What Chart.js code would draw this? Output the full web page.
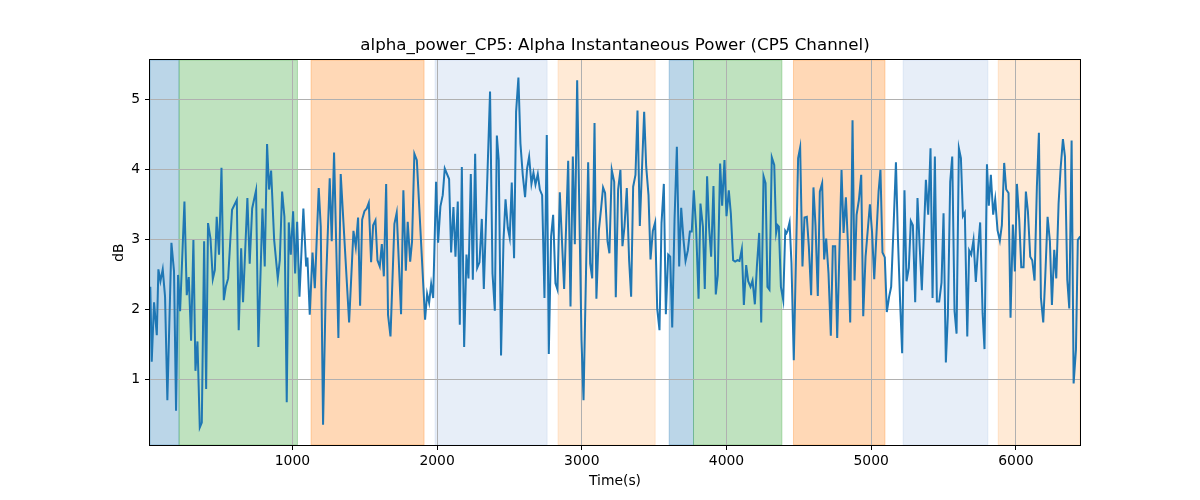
<!DOCTYPE html>
<html>
<head>
<meta charset="utf-8">
<script src="https://cdn.jsdelivr.net/npm/chart.js@4.4.1/dist/chart.umd.min.js"></script>
<style>
  html, body { margin: 0; padding: 0; background: #fff; }
  #wrap { width: 1200px; height: 500px; }
</style>
</head>
<body>
<div id="wrap"><canvas id="alphaChart" width="1200" height="500"></canvas></div>
<script>
// sample times (s) and alpha power (dB)
const times = [
  18, 28, 44, 63, 74, 88, 104, 120, 136, 164,
  182, 196, 210, 224, 254, 270, 284, 300, 316, 330,
  344, 360, 374, 390, 404, 417, 434, 450, 464, 477,
  493, 510, 526, 540, 556, 583, 616, 629, 646, 659,
  689, 705, 722, 749, 765, 793, 809, 825, 839, 853,
  874, 899, 913, 929, 945, 961, 975, 989, 1005, 1019,
  1033, 1049, 1076, 1095, 1104, 1120, 1139, 1155, 1182, 1196,
  1212, 1230, 1258, 1272, 1288, 1318, 1334, 1392, 1422, 1438,
  1454, 1468, 1482, 1498, 1514, 1528, 1544, 1558, 1574, 1588,
  1604, 1618, 1632, 1648, 1661, 1678, 1705, 1721, 1751, 1767,
  1784, 1797, 1814, 1827, 1843, 1860, 1917, 1931, 1945, 1959,
  1973, 1993, 2007, 2023, 2039, 2053, 2083, 2097, 2113, 2127,
  2143, 2157, 2171, 2187, 2203, 2217, 2233, 2247, 2263, 2277,
  2293, 2309, 2323, 2366, 2383, 2399, 2413, 2426, 2442, 2459,
  2473, 2489, 2502, 2516, 2532, 2546, 2562, 2576, 2592, 2608,
  2622, 2636, 2652, 2666, 2680, 2696, 2710, 2726, 2742, 2758,
  2772, 2788, 2802, 2818, 2832, 2848, 2878, 2906, 2922, 2938,
  2952, 2968, 2998, 3012, 3044, 3058, 3072, 3088, 3101, 3118,
  3134, 3147, 3161, 3178, 3191, 3207, 3224, 3235, 3251, 3267,
  3281, 3295, 3311, 3327, 3341, 3355, 3371, 3385, 3401, 3431,
  3445, 3461, 3475, 3491, 3507, 3521, 3537, 3551, 3567, 3581,
  3597, 3611, 3625, 3641, 3657, 3673, 3687, 3703, 3717, 3733,
  3747, 3760, 3774, 3790, 3807, 3820, 3837, 3850, 3866, 3880,
  3894, 3910, 3926, 3940, 3956, 3970, 3986, 4000, 4016, 4030,
  4046, 4060, 4076, 4090, 4106, 4120, 4136, 4150, 4166, 4180,
  4196, 4210, 4226, 4240, 4256, 4270, 4283, 4297, 4313, 4330,
  4343, 4353, 4362, 4376, 4392, 4406, 4415, 4422, 4436, 4449,
  4465, 4495, 4509, 4525, 4539, 4555, 4569, 4585, 4601, 4615,
  4631, 4645, 4661, 4675, 4689, 4705, 4721, 4735, 4751, 4765,
  4780, 4795, 4809, 4825, 4840, 4855, 4871, 4885, 4899, 4915,
  4931, 4945, 4961, 4991, 5006, 5021, 5051, 5064, 5078, 5094,
  5108, 5124, 5138, 5155, 5171, 5185, 5200, 5214, 5230, 5244,
  5260, 5274, 5288, 5304, 5320, 5335, 5350, 5378, 5394, 5410,
  5424, 5440, 5454, 5470, 5486, 5500, 5516, 5530, 5546, 5560,
  5576, 5590, 5606, 5620, 5634, 5647, 5664, 5677, 5691, 5707,
  5723, 5737, 5753, 5770, 5783, 5800, 5813, 5827, 5843, 5857,
  5873, 5889, 5903, 5919, 5933, 5949, 5963, 5979, 5993, 6007,
  6023, 6037, 6053, 6069, 6083, 6099, 6113, 6129, 6145, 6159,
  6173, 6189, 6203, 6219, 6235, 6249, 6265, 6279, 6295, 6309,
  6325, 6339, 6355, 6369, 6385, 6399, 6415, 6428, 6445
];
const alphaDb = [
  2.32, 1.25, 2.10, 1.63, 2.57, 2.40, 2.57, 2.18, 0.70, 2.95,
  2.54, 0.55, 2.49, 1.97, 3.54, 2.20, 2.46, 1.55, 2.99, 1.12,
  1.54, 0.31, 0.38, 2.97, 0.86, 3.23, 3.01, 2.43, 2.56, 3.32,
  2.78, 4.02, 2.13, 2.32, 2.44, 3.42, 3.56, 1.70, 2.87, 2.10,
  3.59, 2.65, 3.44, 3.70, 1.46, 3.44, 2.61, 4.36, 3.71, 3.98,
  2.99, 2.44, 2.70, 3.68, 3.32, 0.67, 3.24, 2.78, 3.40, 2.51,
  3.25, 2.18, 3.44, 2.61, 2.74, 1.92, 2.81, 2.30, 3.73, 3.18,
  0.35, 2.23, 3.87, 2.97, 4.24, 1.59, 3.93, 1.81, 3.12, 2.89,
  3.31, 2.05, 3.28, 3.40, 3.44, 3.52, 2.67, 3.20, 3.27, 2.70,
  2.61, 2.93, 2.47, 3.79, 1.92, 1.61, 3.22, 3.38, 1.93, 3.70,
  2.55, 3.25, 2.68, 2.97, 4.22, 4.13, 1.85, 2.22, 2.09, 2.36,
  2.16, 3.82, 2.95, 3.47, 3.63, 4.01, 3.86, 2.81, 3.46, 2.75,
  3.54, 1.78, 4.03, 1.46, 2.78, 2.44, 3.93, 2.42, 4.22, 2.59,
  2.67, 3.29, 2.29, 5.11, 2.51, 1.98, 4.48, 4.13, 1.34, 2.99,
  3.57, 3.16, 3.02, 3.81, 2.73, 4.82, 5.31, 4.37, 3.92, 3.60,
  4.01, 4.18, 3.79, 3.95, 3.78, 3.93, 3.71, 3.63, 2.16, 4.49,
  1.36, 3.04, 3.35, 2.37, 2.28, 3.67, 2.29, 4.12, 2.04, 4.18,
  2.93, 5.27, 1.56, 0.70, 4.10, 2.65, 2.44, 4.66, 2.15, 3.13,
  3.45, 3.74, 3.66, 2.97, 2.80, 3.99, 3.82, 2.17, 3.71, 3.99,
  2.90, 3.18, 3.73, 2.70, 2.18, 3.75, 3.92, 4.84, 3.19, 4.82,
  4.04, 3.63, 2.71, 3.12, 3.24, 2.01, 1.70, 3.23, 3.79, 1.93,
  2.78, 2.75, 1.74, 3.28, 4.32, 2.61, 3.45, 2.99, 2.69, 2.84,
  3.11, 3.11, 3.70, 3.16, 2.15, 3.51, 3.18, 2.29, 3.90, 3.16,
  2.75, 3.76, 2.21, 2.49, 4.08, 3.48, 4.13, 3.33, 3.70, 3.37,
  2.70, 2.68, 2.70, 2.69, 2.86, 2.06, 2.63, 2.40, 2.32, 2.41,
  2.07, 2.61, 3.09, 1.81, 3.90, 3.80, 2.32, 2.28, 4.17, 4.06,
  3.09, 3.20, 3.18, 2.32, 2.13, 3.12, 3.09, 3.12, 3.24, 2.66,
  1.27, 4.16, 4.31, 2.61, 3.31, 3.32, 2.90, 2.20, 3.74, 3.20,
  2.19, 3.68, 3.80, 2.71, 3.01, 2.51, 1.62, 2.90, 2.90, 1.59,
  2.80, 3.99, 3.09, 3.60, 2.90, 1.81, 4.70, 2.41, 3.35, 3.56,
  3.92, 1.90, 2.75, 3.50, 3.10, 2.43, 3.68, 3.99, 2.81, 2.74,
  1.96, 2.18, 2.32, 3.20, 4.10, 3.00, 2.10, 1.37, 3.70, 2.40,
  2.59, 3.26, 3.20, 2.10, 3.59, 2.90, 2.27, 3.85, 3.35, 4.30,
  2.16, 4.18, 2.11, 2.11, 2.38, 3.37, 1.24, 1.92, 3.82, 4.18,
  1.97, 1.65, 4.30, 4.16, 3.33, 3.38, 1.61, 2.84, 2.78, 2.99,
  2.39, 2.82, 3.24, 1.94, 1.43, 4.07, 3.48, 3.92, 3.35, 3.57,
  3.13, 2.98, 3.20, 4.09, 3.71, 3.66, 1.88, 3.21, 2.54, 3.79,
  3.28, 2.60, 2.60, 3.68, 3.40, 2.75, 2.70, 2.41, 3.75, 4.52,
  2.16, 1.81, 2.47, 3.32, 2.97, 2.06, 2.85, 2.44, 3.51, 4.01,
  4.43, 4.18, 2.42, 2.01, 4.41, 0.94, 1.42, 2.99, 3.04
];

// shaded segments (time ranges)
const bandStarts = [16, 217, 1129, 1986, 2836, 3604, 3772, 4463, 5221, 5878];
const bandEnds   = [217, 1035, 1910, 2760, 3507, 3772, 4383, 5095, 5806, 6443];
const bandColors = [
  "rgba(31,119,180,0.3)", "rgba(44,160,44,0.3)", "rgba(255,127,14,0.3)",
  "rgba(174,199,232,0.3)", "rgba(255,187,120,0.3)",
  "rgba(31,119,180,0.3)", "rgba(44,160,44,0.3)", "rgba(255,127,14,0.3)",
  "rgba(174,199,232,0.3)", "rgba(255,187,120,0.3)"
];

const xTicks = [1000, 2000, 3000, 4000, 5000, 6000];
const yTicks = [1, 2, 3, 4, 5];

const points = times.map((t, i) => ({x: t, y: alphaDb[i]}));
const FONT = "'DejaVu Sans', sans-serif";

const bandPlugin = {
  id: "bands",
  beforeDraw(chart) {
    const {ctx, chartArea, scales} = chart;
    ctx.save();
    ctx.beginPath();
    ctx.rect(chartArea.left, chartArea.top, chartArea.right - chartArea.left, chartArea.bottom - chartArea.top);
    ctx.clip();
    for (let i = 0; i < bandStarts.length; i++) {
      const x0 = scales.x.getPixelForValue(bandStarts[i]);
      const x1 = scales.x.getPixelForValue(bandEnds[i]);
      ctx.fillStyle = bandColors[i];
      ctx.fillRect(x0, chartArea.top, x1 - x0, chartArea.bottom - chartArea.top);
      ctx.strokeStyle = bandColors[i];
      ctx.lineWidth = 1;
      ctx.strokeRect(x0, chartArea.top, x1 - x0, chartArea.bottom - chartArea.top);
    }
    ctx.restore();
  },
  afterDraw(chart) {
    const {ctx, chartArea} = chart;
    ctx.save();
    ctx.strokeStyle = "#000";
    ctx.lineWidth = 1;
    const l = Math.round(chartArea.left) - 0.5, t = Math.round(chartArea.top) - 0.5;
    const r = Math.round(chartArea.right) + 0.5, b = Math.round(chartArea.bottom) + 0.5;
    ctx.strokeRect(l, t, r - l, b - t);
    ctx.restore();
  }
};

new Chart(document.getElementById("alphaChart"), {
  type: "line",
  data: {
    datasets: [{
      label: "alpha_power_CP5",
      data: points,
      borderColor: "#1f77b4",
      borderWidth: 2,
      pointRadius: 0,
      tension: 0,
      fill: false
    }]
  },
  options: {
    responsive: false,
    animation: false,
    events: [],
    layout: {padding: {left: 0, right: 120, top: 0, bottom: 0}},
    plugins: {
      legend: {display: false},
      tooltip: {enabled: false},
      title: {
        display: true,
        fullSize: false,
        text: "alpha_power_CP5: Alpha Instantaneous Power (CP5 Channel)",
        color: "#000",
        font: {family: FONT, size: 16.7, weight: "normal", lineHeight: 1.2},
        padding: {top: 36, bottom: 4}
      }
    },
    scales: {
      x: {
        type: "linear",
        min: 16,
        max: 6443,
        afterBuildTicks: (s) => { s.ticks = xTicks.map(v => ({value: v})); },
        afterFit: (s) => { s.height = 55; },
        grid: {color: "#b0b0b0", lineWidth: 1, tickColor: "#000", tickLength: 5, tickWidth: 1},
        border: {display: false},
        ticks: {color: "#000", font: {family: FONT, size: 13.9}, padding: 3, maxRotation: 0,
                callback: (v) => String(v)},
        title: {display: true, text: "Time(s)", color: "#000",
                font: {family: FONT, size: 13.9, lineHeight: 1.2}, padding: {top: 0, bottom: 10.7}}
      },
      y: {
        min: 0.06,
        max: 5.56,
        afterBuildTicks: (s) => { s.ticks = yTicks.map(v => ({value: v})); },
        afterFit: (s) => { s.width = 150; },
        grid: {color: "#b0b0b0", lineWidth: 1, tickColor: "#000", tickLength: 5, tickWidth: 1},
        border: {display: false},
        ticks: {color: "#000", font: {family: FONT, size: 13.9}, padding: 5,
                callback: (v) => String(v)},
        title: {display: true, text: "dB", color: "#000",
                font: {family: FONT, size: 13.9, lineHeight: 1.2}, padding: {top: 110.7, bottom: 0}}
      }
    }
  },
  plugins: [bandPlugin]
});
</script>
</body>
</html>
